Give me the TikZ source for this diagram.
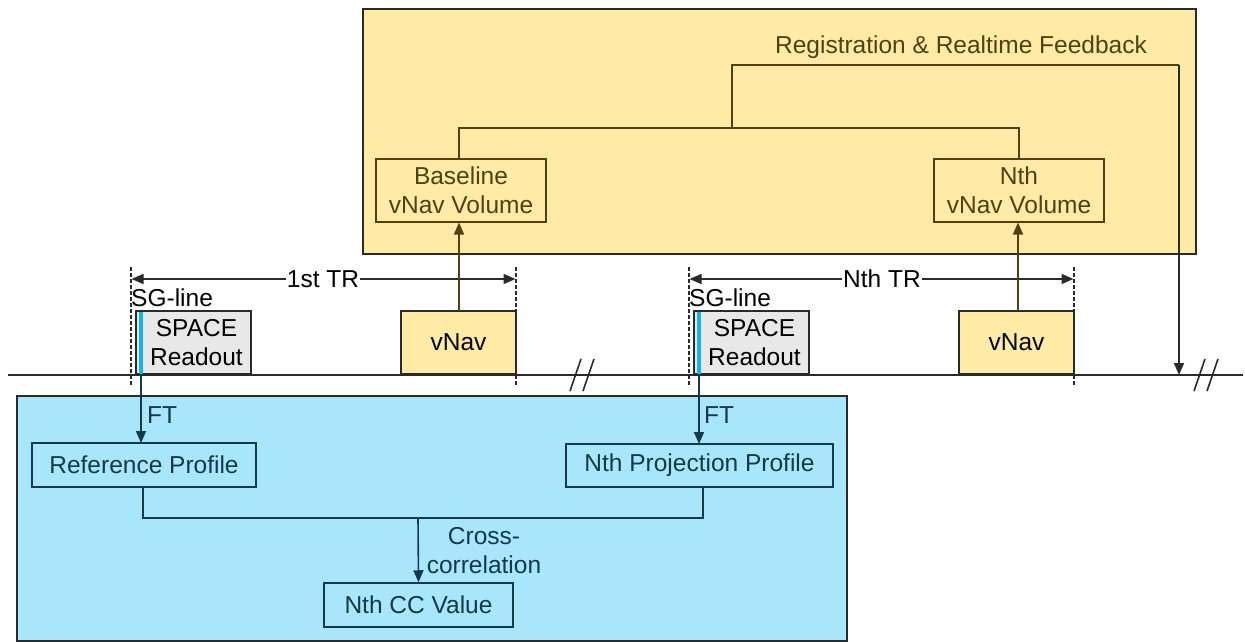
\documentclass[tikz,border=0pt]{standalone}
\usepackage{fontspec}
\setmainfont{Liberation Sans}
\usetikzlibrary{arrows.meta}
\definecolor{yfill}{HTML}{FFEBA5}
\definecolor{bfill}{HTML}{A8E6FB}
\definecolor{gfill}{HTML}{E8E8E8}
\definecolor{cyanl}{HTML}{12B4EC}
\definecolor{darkline}{HTML}{2A2A2A}
\definecolor{ydark}{HTML}{4F4112}
\definecolor{bdark}{HTML}{15394A}
\tikzset{
  every node/.style={font=\fontsize{24.5}{29}\selectfont, inner sep=0pt, align=center},
  panel/.style={draw=darkline, line width=1.8pt},
  ybox/.style={draw=ydark, line width=1.5pt, text=ydark},
  bbox/.style={draw=bdark, line width=1.5pt, text=bdark},
  tbox/.style={draw=darkline, line width=1.5pt, text=black},
  ylink/.style={draw=ydark, line width=1.6pt},
  blink/.style={draw=bdark, line width=1.6pt},
  klink/.style={draw=darkline, line width=1.6pt},
  tip/.style={-{Triangle[length=12pt,width=10pt]}},
  dashv/.style={draw=darkline, line width=1.4pt, dash pattern=on 3.5pt off 2.5pt},
}
\begin{document}
\begin{tikzpicture}[x=1pt,y=-1pt]
\useasboundingbox (0,0) rectangle (1245,642);
\fill[white] (0,0) rectangle (1245,642);
% panels
\node[panel, fill=yfill, minimum width=833pt, minimum height=245pt] (ypanel) at (779.5,131.5) {};
\node[panel, fill=bfill, minimum width=830pt, minimum height=245pt] (bpanel) at (432,518.5) {};
% timeline
\coordinate (tlA) at (8,375);
\coordinate (tlB) at (1243,375);
\draw[klink, line width=1.8pt] (tlA) -- (tlB);
% breaks
\draw[klink, line width=1.6pt] (570,391) -- (581,359) (583,391) -- (594,359);
\draw[klink, line width=1.6pt] (1194,391) -- (1205,359) (1207,391) -- (1218,359);
% yellow boxes
\node[ybox, minimum width=170pt, minimum height=63pt] (base) at (461,190.5) {Baseline\\vNav Volume};
\node[ybox, minimum width=170pt, minimum height=63pt] (nthvol) at (1019,190.5) {Nth\\vNav Volume};
\node[text=ydark, anchor=center] (reg) at (961,47) {Registration \& Realtime Feedback};
% readout / vnav boxes
\node[tbox, fill=gfill, minimum width=115pt, minimum height=63pt] (read1) at (193.5,342.5) {\hspace*{6pt}SPACE\\\hspace*{6pt}Readout};
\node[tbox, fill=yfill, minimum width=115pt, minimum height=63pt] (vnav1) at (458.5,342.5) {vNav};
\node[tbox, fill=gfill, minimum width=115pt, minimum height=63pt] (read2) at (751.5,342.5) {\hspace*{6pt}SPACE\\\hspace*{6pt}Readout};
\node[tbox, fill=yfill, minimum width=115pt, minimum height=63pt] (vnav2) at (1016.5,342.5) {vNav};
\draw[cyanl, line width=4pt] (141,312) -- (141,373.5);
\draw[cyanl, line width=4pt] (699,312) -- (699,373.5);
% TR markers
\coordinate (d1a) at (131,267); \coordinate (d1b) at (131,386);
\coordinate (d2a) at (516,267); \coordinate (d2b) at (516,386);
\coordinate (d3a) at (689,267); \coordinate (d3b) at (689,386);
\coordinate (d4a) at (1074,267); \coordinate (d4b) at (1074,386);
\draw[dashv] (d1a) -- (d1b);
\draw[dashv] (d2a) -- (d2b);
\draw[dashv] (d3a) -- (d3b);
\draw[dashv] (d4a) -- (d4b);
\node[fill=white, inner xsep=1pt] (tr1) at (323,279) {1st TR};
\node[fill=white, inner xsep=1pt] (trn) at (882,279) {Nth TR};
\draw[klink, tip] (tr1.west) -- (131.5,279);
\draw[klink, tip] (tr1.east) -- (515.5,279);
\draw[klink, tip] (trn.west) -- (689.5,279);
\draw[klink, tip] (trn.east) -- (1073.5,279);
\node[anchor=west] (sg1) at (131,298) {SG-line};
\node[anchor=west] (sg2) at (689,298) {SG-line};
% vNav -> volumes
\draw[ylink, tip] (459,311) -- (459,222.5);
\draw[ylink, tip] (1018,311) -- (1018,222.5);
% registration tree
\coordinate (jn) at (732,128);
\coordinate (fbtop) at (732,65);
\coordinate (fbcorner) at (1179,65);
\coordinate (fbend) at (1179,375);
\draw[ylink] (459,159) -- (459,128) -- (1019,128) -- (1019,159);
\draw[ylink] (jn) -- (fbtop) -- (fbcorner);
\draw[klink, tip] (fbcorner) -- (fbend);
% blue panel content
\node[bbox, minimum width=224pt, minimum height=44pt] (ref) at (144,465) {Reference Profile};
\node[bbox, minimum width=267pt, minimum height=43pt] (proj) at (699.5,465.5) {Nth Projection Profile};
\node[bbox, minimum width=189pt, minimum height=44pt] (cc) at (418.5,605) {Nth CC Value};
\draw[blink, tip] (141,374) -- (141,443);
\draw[blink, tip] (699,374) -- (699,444);
\node[text=bdark, anchor=west] (ft1) at (147,415) {FT};
\node[text=bdark, anchor=west] (ft2) at (704,415) {FT};
\coordinate (jc) at (418,518);
\draw[blink] (143,487) -- (143,518) -- (703,518) -- (703,487);
\draw[blink, tip] (jc) -- (cc.north);
\node[text=bdark] (xc) at (484,551) {Cross-\\correlation};
\end{tikzpicture}
\end{document}
